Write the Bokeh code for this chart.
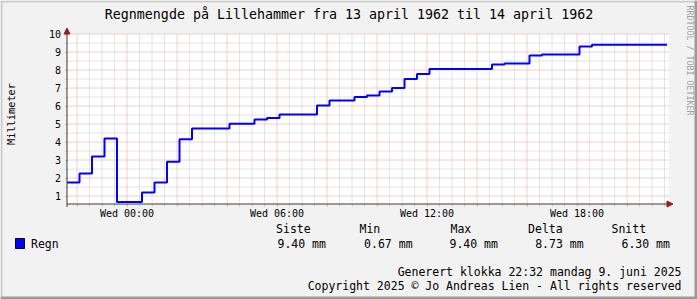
import math
from bokeh.plotting import figure
from bokeh.models import (Range1d, FixedTicker, Label, Arrow, NormalHead,
                          BoxAnnotation)
from bokeh.embed import file_html
from bokeh.resources import INLINE

# ---------------- data ----------------
TITLE = "Regnmengde på Lillehammer fra 13 april 1962 til 14 april 1962"
Y_LABEL = "Millimeter"
SERIES = "Regn"
WATERMARK = "RRDTOOL / TOBI OETIKER"
START_HOUR = -2.4          # Tue 21:36, hours relative to Wed 00:00
STEP_HOURS = 0.5           # 30 minute RRD step
rain_mm = [1.75, 2.25, 3.2, 4.2, 0.67, 0.67, 1.2, 1.75, 2.9, 4.15,
           4.75, 4.75, 4.75, 5.02, 5.02, 5.25, 5.33, 5.53, 5.53, 5.53,
           6.03, 6.3, 6.3, 6.5, 6.58, 6.8, 7.0, 7.5, 7.78,
           8.05, 8.05, 8.05, 8.05, 8.05, 8.3, 8.36, 8.36, 8.8,
           8.86, 8.86, 8.86, 9.3, 9.4, 9.4, 9.4, 9.4, 9.4, 9.4]
tick_hours = [0, 6, 12, 18]
tick_labels = ["Wed 00:00", "Wed 06:00", "Wed 12:00", "Wed 18:00"]
y_ticks = [1, 2, 3, 4, 5, 6, 7, 8, 9, 10]
legend_headers = ["Siste", "Min", "Max", "Delta", "Snitt"]
legend_values = ["9.40 mm", "0.67 mm", "9.40 mm", "8.73 mm", "6.30 mm"]
footer_lines = ["Generert klokka 22:32 mandag 9. juni 2025",
                "Copyright 2025 © Jo Andreas Lien - All rights reserved"]

# ---------------- layout ----------------
W, H = 697, 299
L, R, T, B = 66.5, 668.5, 33.5, 203.5   # plot area on the canvas (px)
PX_PER_HOUR = 25.0
PX_PER_MM = 18.0
Y_MAX = 10.0
Y_MIN = Y_MAX - (B - T) / PX_PER_MM
FONT = "DejaVu Sans Mono"
BG = "#F2F2F2"
AXIS_C = "#3A3A3A"
ARROW_C = "#9B1C1C"
MGRID_C = "#E6A0A0"
GRID_C = "#C8C8C8"

x0 = START_HOUR
x1 = x0 + (R - L) / PX_PER_HOUR
upp = 1.0 / PX_PER_MM
hpp = 1.0 / PX_PER_HOUR
FX0, FX1 = x0 - L * hpp, x0 + (W - L) * hpp
FY0, FY1 = Y_MIN - (H - B) * upp, Y_MAX + T * upp

p = figure(width=W, height=H, x_range=Range1d(FX0, FX1), y_range=Range1d(FY0, FY1),
           output_backend="svg", toolbar_location=None,
           min_border_left=0, min_border_right=0, min_border_top=0, min_border_bottom=0)
p.border_fill_color = BG
p.background_fill_color = BG
p.outline_line_color = None
p.xgrid.visible = False
p.ygrid.visible = False

# plot area background
p.add_layout(BoxAnnotation(left=x0, right=x1, bottom=Y_MIN, top=Y_MAX,
                           fill_color="white", fill_alpha=1, line_alpha=0,
                           level="underlay"))

# ticks
major_x = [h for h in range(-24, 48, 2) if x0 <= h <= x1]
minor_x = [h / 2 for h in range(-48, 96) if x0 <= h / 2 <= x1 and (h / 2) % 2 != 0]
minor_y = [v + 0.5 for v in y_ticks[:-1]]

# grid lines (dotted, dash phase aligned to whole pixels)
def vgrid(xs, color):
    p.segment(x0=xs, y0=[Y_MIN + 0.5 * upp] * len(xs), x1=xs, y1=[Y_MAX] * len(xs),
              line_color=color, line_dash="1 1", line_width=1)

def hgrid(ys, color):
    p.segment(x0=[x0 + 0.5 * hpp] * len(ys), y0=ys, x1=[x1] * len(ys), y1=ys,
              line_color=color, line_dash="1 1", line_width=1)

vgrid(minor_x, GRID_C)
hgrid(minor_y, GRID_C)
vgrid(major_x, MGRID_C)
hgrid(y_ticks, MGRID_C)

# axes drawn at fixed data locations
xa = p.xaxis[0]
xa.fixed_location = Y_MIN
xa.bounds = (x0, x1)
xa.ticker = FixedTicker(ticks=major_x, minor_ticks=minor_x)
overrides = {h: "" for h in major_x}
for h, lab in zip(tick_hours, tick_labels):
    overrides[h] = lab
xa.major_label_overrides = overrides

ya = p.yaxis[0]
ya.fixed_location = x0
ya.bounds = (Y_MIN, Y_MAX)
ya.ticker = FixedTicker(ticks=y_ticks, minor_ticks=minor_y)

for ax in (xa, ya):
    ax.axis_line_color = None
    ax.major_tick_in = 0
    ax.major_tick_out = 2
    ax.minor_tick_in = 0
    ax.minor_tick_out = 2
    ax.major_tick_line_color = MGRID_C
    ax.minor_tick_line_color = GRID_C
    ax.major_label_text_font = FONT
    ax.major_label_text_font_size = "10px"
    ax.major_label_text_color = "black"
xa.major_label_standoff = 2
ya.major_label_standoff = 4

# data step line
xs = [x0 + i * STEP_HOURS for i in range(len(rain_mm) + 1)]
ys = rain_mm + [rain_mm[-1]]
p.step(xs, ys, mode="after", line_color="#0000FF", line_width=2)

# axis lines with arrow heads
p.add_layout(Arrow(x_start=x0, y_start=Y_MIN - 3 * upp, x_end=x0, y_end=Y_MAX + 6 * upp,
                   line_color=AXIS_C, line_width=1,
                   end=NormalHead(size=6, fill_color=ARROW_C, line_color=ARROW_C)))
p.add_layout(Arrow(x_start=x0, y_start=Y_MIN, x_end=x1 + 4 * hpp, y_end=Y_MIN,
                   line_color=AXIS_C, line_width=1,
                   end=NormalHead(size=6, fill_color=ARROW_C, line_color=ARROW_C)))


def sy(cy):
    return H - cy


def label(text, cx, cy, size, align="left", color="black", angle=0.0):
    p.add_layout(Label(x=cx, y=sy(cy), x_units="screen", y_units="screen",
                       text=text, text_font=FONT, text_font_size=size,
                       text_color=color, text_align=align, text_baseline="middle",
                       angle=angle))


label(TITLE, 348.5, 14, "13.3px", align="center")
label(Y_LABEL, 10, 113.5, "10.3px", align="center", angle=math.pi / 2)
label(WATERMARK, 689, 60, "8.3px", align="center", color="#A0A0A0", angle=-math.pi / 2)

# legend
p.add_layout(BoxAnnotation(left=15, right=24, top=sy(238), bottom=sy(248),
                           left_units="screen", right_units="screen",
                           top_units="screen", bottom_units="screen",
                           fill_color="#0000FF", fill_alpha=1, line_color="black",
                           line_width=1, line_alpha=1))
label(SERIES, 30.5, 243, "11.5px")
hdr_x = [275.6, 359, 450, 527.6, 611]
val_x = [277, 363.6, 449, 534.7, 621]
for t, cx in zip(legend_headers, hdr_x):
    label(t, cx, 228.5, "11.5px")
for t, cx in zip(legend_values, val_x):
    label(t, cx, 243, "11.5px")
label(footer_lines[0], 681, 271, "11.5px", align="right")
label(footer_lines[1], 681, 285, "11.5px", align="right")

# canvas frame shading
for (l, r, t, b, c) in [(0, W, 0, 2, "#CBCBCB"), (0, 2, 0, H, "#CBCBCB"),
                        (W - 3, W, 0, H, "#9A9A9A"), (0, W, H - 3, H, "#9A9A9A")]:
    p.add_layout(BoxAnnotation(left=l, right=r, top=sy(t), bottom=sy(b),
                               left_units="screen", right_units="screen",
                               top_units="screen", bottom_units="screen",
                               fill_color=c, fill_alpha=1, line_alpha=0))

open("out.html", "w").write(file_html(p, INLINE))
